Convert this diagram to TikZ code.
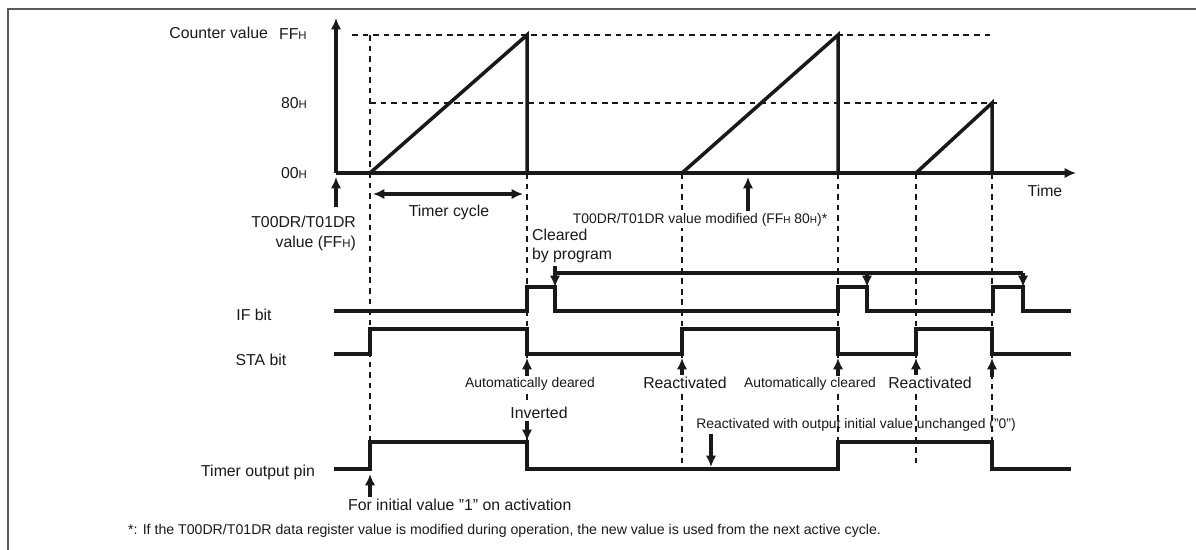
\documentclass[tikz,border=0pt]{standalone}
\usepackage{fontspec}
\setmainfont{Liberation Sans}
\usepackage{tikz}
\usetikzlibrary{arrows.meta,positioning,calc}
\definecolor{framegray}{RGB}{90,90,90}
\definecolor{inkblack}{RGB}{25,25,25}
\newcommand{\hx}[1]{#1\scalebox{0.72}{H}}
\newcommand{\dq}{\symbol{34}}

\begin{document}
\begin{tikzpicture}[x=0.02cm,y=-0.02cm,>={Latex[length=6.5pt,width=6pt]},
  every node/.style={font=\fontsize{9}{11}\selectfont,text=inkblack,inner sep=1pt},
  sig/.style={line width=2pt,draw=inkblack},
  guide/.style={line width=0.65pt,draw=inkblack,dash pattern=on 3.2pt off 2.8pt},
  note/.style={font=\fontsize{7.9}{9}\selectfont},
  mask/.style={fill=white}]
\useasboundingbox (0,0) rectangle (1196,550);
\draw[framegray,line width=1.4pt] (8,550) -- (8,9) -- (1196,9);
% guide lines
\draw[guide] (352,35) -- (992,35);
\draw[guide] (370,103) -- (997,103);
\draw[guide] (370,35) -- (370,442);
\foreach \x/\e in {527/442,682/468,838/442,916/468,992/442}
  \draw[guide] (\x,173) -- (\x,\e);
% counter value
\coordinate (orig) at (336,173);
\coordinate (ytip) at (336,18);
\coordinate (xtip) at (1076,173);
\draw[sig,->] (orig) -- (ytip);
\draw[sig,->] (orig) -- (xtip);
\draw[sig] (370,173) -- (527,35) -- (527,173);
\draw[sig] (682,173) -- (838,35) -- (838,173);
\draw[sig] (916,173) -- (992,103) -- (992,173);
\node[anchor=east] (cntlbl) at (270,33) {Counter value};
\node[anchor=west] (ffh) at (277,34) {\hx{FF}};
\node[anchor=west] (h80) at (279,103) {\hx{80}};
\node[anchor=west] (h00) at (279,173) {\hx{00}};
\node (timelbl) at (1045,191) {Time};
% annotations under the counter
\node[align=right,anchor=north east,font=\fontsize{9}{11.3}\selectfont] (initval) at (358,214) {T00DR/T01DR\\value (\hx{FF})};
\coordinate (initbase) at (336,207);
\coordinate (inittip) at (336,177);
\draw[sig,->] (initbase) -- (inittip);
\coordinate (cycA) at (373,194);
\coordinate (cycB) at (523,194);
\draw[sig,<->] (cycA) -- (cycB);
\node (cyclbl) at (449,212) {Timer cycle};
\node[note,mask] (modlbl) at (700,220) {T00DR/T01DR value modified (\hx{FF} \hx{80})*};
\coordinate (modtip) at (748,177);
\draw[sig,->] (modlbl.north -| modtip) -- (modtip);
\node[align=left,anchor=north west,font=\fontsize{9}{10.8}\selectfont] (clrlbl) at (530,227) {Cleared\\by program};
% clear by program
\coordinate (clrA) at (555,266);
\coordinate (clrB) at (1023,273);
\draw[sig,->] (clrA) -- (555,287);
\draw[sig] (555,273) -- (clrB);
\draw[sig,->] (867,273) -- (867,287);
\draw[sig,->] (clrB) -- (1023,287);
% IF bit
\node (iflbl) at (254,315) {IF bit};
\draw[sig] (334,311) -- (527,311) -- (527,287) -- (555,287) -- (555,311)
  -- (838,311) -- (838,287) -- (867,287) -- (867,311) -- (993,311)
  -- (993,287) -- (1023,287) -- (1023,311) -- (1071,311);
% STA bit
\node (stalbl) at (261,360) {STA bit};
\draw[sig] (334,354) -- (370,354) -- (370,329) -- (527,329) -- (527,354)
  -- (682,354) -- (682,329) -- (838,329) -- (838,354) -- (916,354)
  -- (916,329) -- (992,329) -- (992,354) -- (1071,354);
\foreach \x in {527,682,838,916,992}
  \draw[sig,->] (\x,377) -- (\x,358);
\node[note,mask] (autoA) at (530,384) {Automatically deared};
\node[mask] (reacA) at (685,383) {Reactivated};
\node[note,mask] (autoB) at (810,384) {Automatically cleared};
\node[mask] (reacB) at (930,383) {Reactivated};
% timer output pin
\node (outlbl) at (258,472) {Timer output pin};
\node[mask] (invlbl) at (539,413) {Inverted};
\coordinate (invtip) at (527,441);
\draw[sig,->] (invlbl.south -| invtip) -- (invtip);
\node[note] (unchg) at (856,425) {Reactivated with output initial value unchanged (\dq0\dq)};
\coordinate (unchgtip) at (711,467);
\draw[sig,->] (unchg.south -| unchgtip) -- (unchgtip);
\draw[sig] (334,469) -- (370,469) -- (370,442) -- (527,442) -- (527,469)
  -- (838,469) -- (838,442) -- (992,442) -- (992,469) -- (1071,469);
\node[anchor=west] (firstlbl) at (346,505) {For initial value \dq1\dq{} on activation};
\coordinate (firsttip) at (370,474);
\draw[sig,->] (firstlbl.north -| firsttip) -- (firsttip);
\node[anchor=west,font=\fontsize{8.05}{9}\selectfont] (footnote) at (126,531) {*: If the T00DR/T01DR data register value is modified during operation, the new value is used from the next active cycle.};
\end{tikzpicture}
\end{document}
